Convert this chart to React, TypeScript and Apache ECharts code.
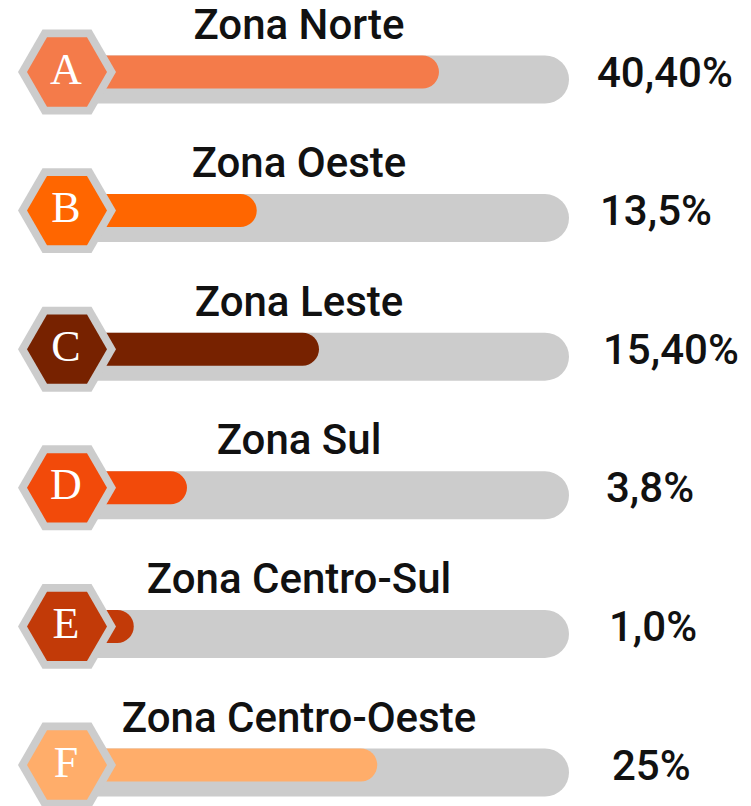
import React, { useEffect, useRef } from "react";
import * as echarts from "echarts";

const letters = ["A", "B", "C", "D", "E", "F"];
const zones = [
  "Zona Norte",
  "Zona Oeste",
  "Zona Leste",
  "Zona Sul",
  "Zona Centro-Sul",
  "Zona Centro-Oeste",
];
const barValues = [74.1, 37.8, 50.2, 23.9, 13.3, 61.8];
const percentLabels = ["40,40%", "13,5%", "15,40%", "3,8%", "1,0%", "25%"];
const trackValues = [100, 100, 100, 100, 100, 100];
const colors = ["#F47B4A", "#FF6600", "#772200", "#F24A0A", "#C23A08", "#FFAD6A"];

const GRAY = "#cccccc";

function hex(cx: number, cy: number, r: number) {
  const pts: number[][] = [];
  for (let k = 0; k < 6; k++) {
    const a = (Math.PI / 3) * k;
    pts.push([cx + r * Math.cos(a), cy + r * Math.sin(a)]);
  }
  return pts;
}

export default function App() {
  const ref = useRef<HTMLDivElement>(null);
  useEffect(() => {
    if (!ref.current) return;
    const chart = echarts.init(ref.current, undefined, { renderer: "svg" });
    chart.setOption({
      animation: false,
      grid: { left: 67, right: 182, top: 72, bottom: 41 },
      xAxis: { type: "value", min: 0, max: 100, show: false },
      yAxis: {
        type: "category",
        data: letters,
        inverse: true,
        boundaryGap: false,
        show: false,
      },
      series: [
        {
          type: "bar",
          data: trackValues,
          barWidth: 48,
          itemStyle: { color: GRAY, borderRadius: [0, 24, 24, 0] },
          z: 1,
          silent: true,
        },
        {
          type: "bar",
          data: barValues.map((v, i) => ({ value: v, itemStyle: { color: colors[i] } })),
          barWidth: 33,
          barGap: "-100%",
          itemStyle: { borderRadius: [0, 16.5, 16.5, 0] },
          z: 2,
          silent: true,
        },
        {
          type: "custom",
          z: 3,
          silent: true,
          encode: { x: 0, y: 1 },
          data: letters.map((_, i) => [0, i]),
          renderItem: (params: any, api: any) => {
            const i = api.value(1);
            const [cx, cy] = api.coord([0, i]);
            const endX = api.coord([100, i])[0];
            return {
              type: "group",
              children: [
                { type: "polygon", shape: { points: hex(cx, cy, 49) }, style: { fill: GRAY } },
                { type: "polygon", shape: { points: hex(cx, cy, 40) }, style: { fill: colors[i] } },
                {
                  type: "text",
                  x: cx - 1,
                  y: cy - 3,
                  style: {
                    text: letters[i],
                    fill: "#ffffff",
                    fontFamily: "Liberation Serif",
                    fontSize: 44,
                    align: "center",
                    verticalAlign: "middle",
                  },
                },
                {
                  type: "text",
                  x: cx + 232,
                  y: cy - 48,
                  style: {
                    text: zones[i],
                    fill: "#111111",
                    fontFamily: "Roboto",
                    fontWeight: 500,
                    fontSize: 42,
                    align: "center",
                    verticalAlign: "middle",
                  },
                },
                {
                  type: "text",
                  x: endX + 28 + 3 * i,
                  y: cy,
                  style: {
                    text: percentLabels[i],
                    fill: "#111111",
                    fontFamily: "Roboto",
                    fontWeight: 500,
                    fontSize: 42,
                    align: "left",
                    verticalAlign: "middle",
                  },
                },
              ],
            };
          },
        },
      ],
    });
    return () => chart.dispose();
  }, []);
  return (
    <div
      ref={ref}
      style={{ position: "fixed", left: 0, top: 0, width: 751, height: 806, background: "#ffffff" }}
    />
  );
}
